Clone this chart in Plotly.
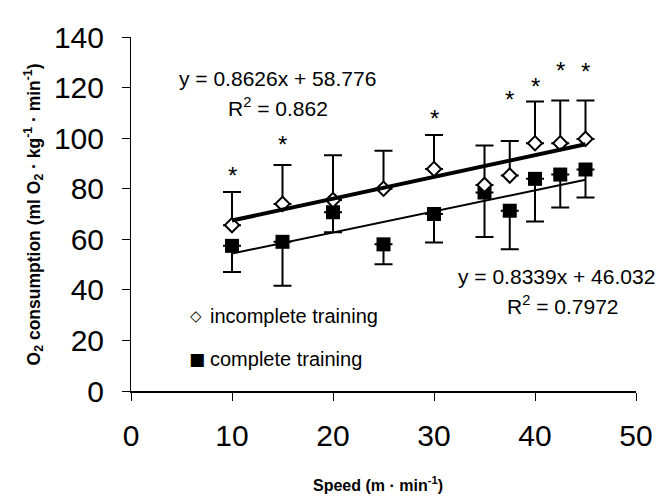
import plotly.graph_objects as go

# ---- data ----
speeds = [10, 15, 20, 25, 30, 35, 37.5, 40, 42.5, 45]
incomplete_mean = [65.6, 74.0, 75.5, 80.0, 87.8, 81.5, 85.2, 98.0, 98.0, 99.7]
incomplete_sd = [13.1, 15.4, 17.7, 15.0, 13.4, 15.6, 13.7, 16.5, 16.9, 15.2]
complete_mean = [57.4, 59.0, 70.7, 58.0, 70.0, 78.5, 71.3, 83.9, 85.6, 87.6]
complete_sd = [10.3, 17.4, 7.9, 7.9, 11.3, 17.6, 15.2, 16.9, 13.0, 11.1]
star_speeds = [10, 15, 30, 37.5, 40, 42.5, 45]
star_heights = [87.4, 99.3, 109.7, 117.1, 122.3, 128.6, 128.3]
fit_incomplete = (0.8626, 58.776)
fit_complete = (0.8339, 46.032)
x_ticks = [0, 10, 20, 30, 40, 50]
y_ticks = [0, 20, 40, 60, 80, 100, 120, 140]

FONT = "Arial, 'Liberation Sans', sans-serif"

fig = go.Figure()

fig.add_trace(go.Scatter(
    x=speeds, y=complete_mean, mode="markers",
    marker=dict(symbol="square", size=14, color="black"),
    error_y=dict(type="data", symmetric=False, array=[0] * len(speeds),
                 arrayminus=complete_sd, color="black", thickness=2, width=9),
    showlegend=False))

fig.add_trace(go.Scatter(
    x=speeds, y=incomplete_mean, mode="markers",
    marker=dict(symbol="diamond", size=11, color="white",
                line=dict(color="black", width=2)),
    error_y=dict(type="data", symmetric=False, array=incomplete_sd,
                 arrayminus=[0] * len(speeds), color="black", thickness=2, width=9),
    showlegend=False))

# trend lines from the equations shown on the chart
x_line = [speeds[0], speeds[-1]]
fig.add_trace(go.Scatter(
    x=x_line, y=[fit_incomplete[0] * v + fit_incomplete[1] for v in x_line],
    mode="lines", line=dict(color="black", width=4), showlegend=False))
fig.add_trace(go.Scatter(
    x=x_line, y=[fit_complete[0] * v + fit_complete[1] for v in x_line],
    mode="lines", line=dict(color="black", width=2), showlegend=False))

annotations = []
for sx, sy in zip(star_speeds, star_heights):
    annotations.append(dict(x=sx, y=sy, xref="x", yref="y", text="*",
                            showarrow=False, yshift=-5,
                            font=dict(family=FONT, size=24, color="black")))

eq_font = dict(family=FONT, size=21, color="black")
annotations += [
    dict(x=14.5, y=123.6, xref="x", yref="y", showarrow=False, font=eq_font,
         text="y = 0.8626x + 58.776"),
    dict(x=14.6, y=112.3, xref="x", yref="y", showarrow=False, font=eq_font,
         text="R<sup>2</sup> = 0.862"),
    dict(x=42.1, y=45.3, xref="x", yref="y", showarrow=False, font=eq_font,
         text="y = 0.8339x + 46.032"),
    dict(x=42.8, y=34.2, xref="x", yref="y", showarrow=False, font=eq_font,
         text="R<sup>2</sup> = 0.7972"),
    dict(x=6.42, y=29.5, xref="x", yref="y", showarrow=False,
         font=dict(family="DejaVu Sans", size=15, color="black"), text="◇"),
    dict(x=7.6, y=29.5, xref="x", yref="y", showarrow=False, xanchor="left",
         font=dict(family=FONT, size=20, color="black"), text="incomplete training"),
    dict(x=6.5, y=12.8, xref="x", yref="y", showarrow=False,
         font=dict(family="DejaVu Sans", size=17, color="black"), text="■"),
    dict(x=7.6, y=12.6, xref="x", yref="y", showarrow=False, xanchor="left",
         font=dict(family=FONT, size=20, color="black"), text="complete training"),
    dict(x=0.49, y=-0.296, xref="paper", yref="paper", showarrow=False,
         font=dict(family=FONT, size=16, color="black"),
         text="<b>Speed (m · min<sup>-1</sup>)</b>"),
    dict(x=-0.222, y=0.5, xref="paper", yref="paper", showarrow=False, textangle=-90,
         font=dict(family=FONT, size=17.5, color="black"),
         text="<b>O<sub>2</sub> consumption (ml O<sub>2</sub> · kg<sup>-1</sup> · min<sup>-1</sup>)</b>"),
]

fig.update_layout(
    width=663, height=500,
    margin=dict(l=123, r=35, t=24, b=117),
    paper_bgcolor="white", plot_bgcolor="white",
    font=dict(family=FONT, color="black"),
    annotations=annotations,
    xaxis=dict(range=[0, 50], tickvals=x_ticks, ticks="outside", ticklen=8,
               tickwidth=1, tickcolor="black", showline=True, linecolor="black",
               linewidth=1.5, showgrid=False, zeroline=False,
               tickfont=dict(family=FONT, size=30, color="black"),
               ticklabelstandoff=9),
    yaxis=dict(range=[0, 140], tickvals=y_ticks, ticks="outside", ticklen=8,
               tickwidth=1, tickcolor="black", showline=True, linecolor="black",
               linewidth=1, showgrid=False, zeroline=False,
               tickfont=dict(family=FONT, size=30, color="black"),
               ticklabelstandoff=12),
)

fig.write_html("out.html")
